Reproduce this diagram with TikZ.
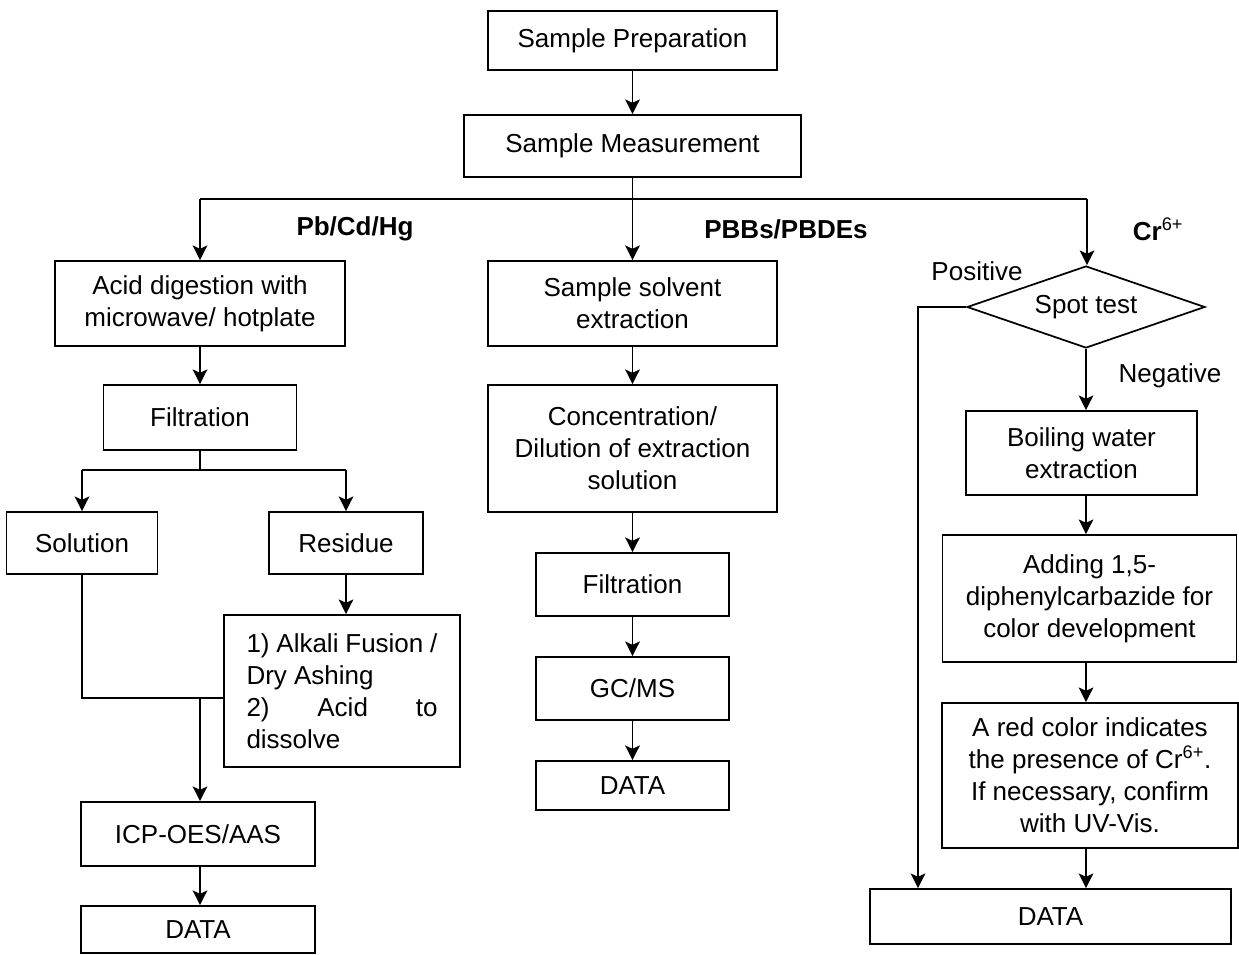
\documentclass[tikz,border=0pt]{standalone}
\usepackage{fontspec}
\setmainfont{Liberation Sans}
\usetikzlibrary{shapes.geometric,arrows.meta}
\begin{document}
\begin{tikzpicture}[x=0.75pt,y=-0.75pt,
  every node/.style={font=\fontsize{19.5}{24}\selectfont},
  box/.style n args={2}{draw,line width=1.3pt,inner sep=0pt,align=center,minimum width=#1*0.75pt,minimum height=#2*0.75pt},
  lbl/.style={font=\fontsize{19.5}{24}\selectfont\bfseries},
  arr/.style={line width=1.3pt,-{Stealth[length=11pt,width=11pt,inset=2.5pt]}},
  ln/.style={line width=1.3pt}]
\useasboundingbox[fill=white] (0,0) rectangle (1239,954);
% top
\node[box={289}{59}] (prep) at (632.5,40.5) {Sample Preparation};
\node[box={337}{62}] (meas) at (632.5,146) {Sample Measurement};
% left column
\node[box={290}{85}] (acid) at (200,303.5) {Acid digestion with\\microwave/ hotplate};
\node[box={193}{65}] (filt1) at (200,417.5) {Filtration};
\node[box={151}{62}] (sol) at (82,543) {Solution};
\node[box={154}{62}] (res) at (346,543) {Residue};
\node[box={236}{152}] (alk) at (342,691) {\begin{minipage}{143.25pt}\raggedright 1) Alkali Fusion /\\Dry Ashing\\\makebox[143.25pt][s]{2)\hfill Acid\hfill to}\\dissolve\end{minipage}};
\node[box={234}{64}] (icp) at (198,834) {ICP-OES/AAS};
\node[box={234}{47}] (data1) at (198,929.5) {DATA};
% middle column
\node[box={289}{85}] (sse) at (632.5,303.5) {Sample solvent\\extraction};
\node[box={289}{127}] (conc) at (632.5,448.5) {Concentration/\\Dilution of extraction\\solution};
\node[box={193}{63}] (filt2) at (632.5,584.5) {Filtration};
\node[box={193}{63}] (gcms) at (632.5,688.5) {GC/MS};
\node[box={193}{49}] (data2) at (632.5,785.5) {DATA};
% right column
\node[draw,line width=1.3pt,diamond,aspect=2.9,inner sep=0pt,minimum width=238*0.75pt,minimum height=82*0.75pt] (spot) at (1086,307) {Spot test};
\node[box={231}{84}] (boil) at (1081.5,453) {Boiling water\\extraction};
\node[box={294}{127}] (add) at (1089.5,598.5) {Adding 1,5-\\diphenylcarbazide for\\color development};
\node[box={296}{145}] (red) at (1090,775.5) {A red color indicates\\the presence of Cr\textsuperscript{6+}.\\If necessary, confirm\\with UV-Vis.};
\node[box={361}{55}] (data3) at (1050.5,916.5) {DATA};
% labels
\node[lbl] (l1) at (355,229) {Pb/Cd/Hg};
\node[lbl] (l2) at (786,229) {PBBs/PBDEs};
\node[lbl] (l3) at (1158,229) {Cr\textsuperscript{\mdseries 6+}};
\node (pos) at (977,271) {Positive};
\node (neg) at (1170,376) {Negative};
% connectors
\coordinate (br) at (632.5,199);
\coordinate (brL) at (200,199);
\coordinate (brR) at (1087,199);
\draw[arr] (prep) -- (meas);
\draw[ln] (meas.south) -- (br);
\draw[ln] (brL) -- (brR);
\draw[arr] (brL) -- (acid.north);
\draw[arr] (br) -- (sse.north);
\draw[arr] (brR) -- (brR |- spot.north);
% left
\draw[arr] (acid) -- (filt1);
\coordinate (fb) at (200,470);
\coordinate (fbL) at (82,470);
\coordinate (fbR) at (346,470);
\draw[ln] (filt1.south) -- (fb);
\draw[ln] (fbL) -- (fbR);
\draw[arr] (fbL) -- (sol.north);
\draw[arr] (fbR) -- (res.north);
\draw[arr] (res.south) -- (res.south |- alk.north);
\coordinate (jn) at (82,698);
\coordinate (jn2) at (200,698);
\draw[ln] (sol.south) -- (jn) -- (jn -| alk.west);
\draw[arr] (jn2) -- (jn2 |- icp.north);
\draw[arr] (jn2 |- icp.south) -- (jn2 |- data1.north);
% middle
\draw[arr] (sse) -- (conc);
\draw[arr] (conc) -- (filt2);
\draw[arr] (filt2) -- (gcms);
\draw[arr] (gcms) -- (data2);
% right
\coordinate (pl) at (918,307);
\draw[arr] (spot.west) -- (pl) -- (pl |- data3.north);
\draw[arr] (spot.south) -- (spot.south |- boil.north);
\draw[arr] (spot.south |- boil.south) -- (spot.south |- add.north);
\draw[arr] (spot.south |- add.south) -- (spot.south |- red.north);
\draw[arr] (spot.south |- red.south) -- (spot.south |- data3.north);
\end{tikzpicture}
\end{document}
